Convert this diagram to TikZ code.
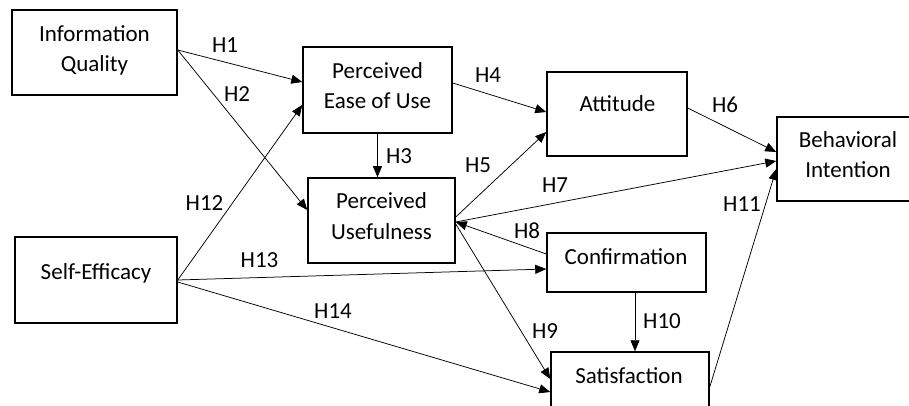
\documentclass[tikz,border=0pt]{standalone}
\usepackage{fontspec}
\setmainfont{Carlito}
\usetikzlibrary{arrows.meta}
\begin{document}
\begin{tikzpicture}[x=1pt,y=-1pt,
  box/.style={draw,line width=1.5pt,rectangle,inner sep=0pt},
  txt/.style={font=\fontsize{23}{30.5}\selectfont,anchor=base,align=center,inner sep=0pt},
  lab/.style={font=\fontsize{23}{30}\selectfont,anchor=base,inner sep=0pt},
  arr/.style={line width=0.75pt,-{Triangle[length=11pt,width=9pt]}}]
\useasboundingbox (0,0) rectangle (909,406);
\clip (0,0) rectangle (909,406);
% boxes
\node[box,minimum width=165pt,minimum height=85pt] (iq) at (94.5,52.5) {};
\node[box,minimum width=149pt,minimum height=86pt] (peou) at (377.5,90) {};
\node[box,minimum width=147pt,minimum height=85pt] (pu) at (381.5,220.5) {};
\node[box,minimum width=140pt,minimum height=84pt] (att) at (617,114) {};
\node[box,minimum width=138pt,minimum height=84pt] (bi) at (846,159) {};
\node[box,minimum width=159pt,minimum height=59pt] (conf) at (626.5,262.5) {};
\node[box,minimum width=158pt,minimum height=84pt] (sat) at (630,394) {};
\node[box,minimum width=162pt,minimum height=86pt] (se) at (96,280) {};
% box texts (base = last line baseline)
\node[txt] (iqt) at (94.5,72) {Information\\Quality};
\node[txt] (peout) at (377.5,109) {Perceived\\Ease of Use};
\node[txt] (put) at (381.5,239) {Perceived\\Usefulness};
\node[txt] (attt) at (617.5,112) {Attitude};
\node[txt] (bit) at (848,178) {Behavioral\\Intention};
\node[txt] (conft) at (626,264) {Confirmation};
\node[txt] (satt) at (629,383) {Satisfaction};
\node[txt] (set) at (96,279) {Self-Efficacy};
% connectors
\draw[arr] ([yshift=2.5pt]iq.east) -- ([yshift=8pt]peou.west);
\draw[arr] ([yshift=2.5pt]iq.east) -- ([yshift=10.5pt]pu.west);
\draw[arr] (se.east) -- ([yshift=-15pt]peou.west);
\draw[arr] (se.east) -- ([yshift=-6.5pt]conf.west);
\draw[arr] ([yshift=-2pt]se.east) -- ([yshift=2pt]sat.west);
\draw[arr] (peou.south) -- (peou.south |- pu.north);
\draw[arr] ([yshift=7pt]peou.east) -- ([yshift=2pt]att.west);
\draw[arr] ([yshift=3.5pt]pu.east) -- ([yshift=-18pt]att.west);
\draw[arr] ([yshift=-1.5pt]pu.east) -- ([yshift=-2pt]bi.west);
\draw[arr] ([yshift=8.5pt]conf.west) -- ([yshift=-1.5pt]pu.east);
\draw[arr] ([yshift=-3.5pt]pu.east) -- ([yshift=15pt]sat.west);
\draw[arr] ([yshift=6pt]att.east) -- ([yshift=7pt]bi.west);
\draw[arr] ([yshift=7pt]sat.east) -- ([yshift=-10pt]bi.west);
\draw[arr] ([xshift=8.5pt]conf.south) -- ([xshift=8.5pt]conf.south |- sat.north);
% labels
\node[lab] (h1) at (225,52.5) {H1};
\node[lab] (h2) at (237,101.5) {H2};
\node[lab] (h3) at (399,164) {H3};
\node[lab] (h4) at (488,83) {H4};
\node[lab] (h5) at (478,172) {H5};
\node[lab] (h6) at (725,113) {H6};
\node[lab] (h7) at (555,192) {H7};
\node[lab] (h8) at (527,238) {H8};
\node[lab] (h9) at (545,338) {H9};
\node[lab] (h10) at (662,328) {H10};
\node[lab] (h11) at (742,211) {H11};
\node[lab] (h12) at (204.5,210) {H12};
\node[lab] (h13) at (259.5,267) {H13};
\node[lab] (h14) at (333,318) {H14};
\end{tikzpicture}
\end{document}
